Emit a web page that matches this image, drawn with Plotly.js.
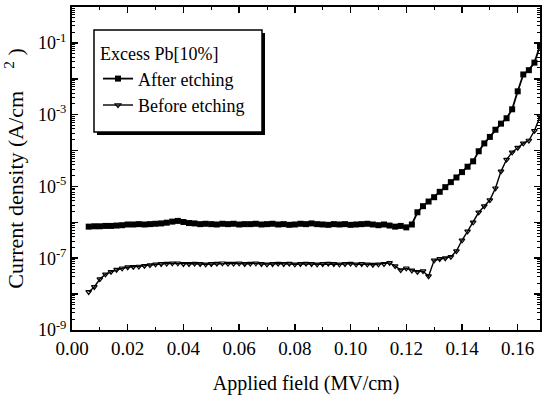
<!DOCTYPE html>
<html>
<head>
<meta charset="utf-8">
<script src="https://cdn.plot.ly/plotly-3.0.1.min.js"></script>
<style>html,body{margin:0;padding:0;background:#fff;}#chart{width:543px;height:396px;}</style>
</head>
<body>
<div id="chart"></div>
<script>
// Applied field (MV/cm)
const fieldAfter = [0.006,0.008,0.010,0.012,0.014,0.016,0.018,0.020,0.022,0.024,0.026,0.028,0.030,0.032,0.034,0.036,0.038,0.040,0.042,0.044,0.046,0.048,0.050,0.052,0.054,0.056,0.058,0.060,0.062,0.064,0.066,0.068,0.070,0.072,0.074,0.076,0.078,0.080,0.082,0.084,0.086,0.088,0.090,0.092,0.094,0.096,0.098,0.100,0.102,0.104,0.106,0.108,0.110,0.112,0.114,0.116,0.118,0.120,0.122,0.124,0.126,0.128,0.130,0.132,0.134,0.136,0.138,0.140,0.142,0.144,0.146,0.148,0.150,0.152,0.154,0.156,0.158,0.160,0.162,0.164,0.166,0.168];
// log10 of current density (A/cm^2), after etching
const logJAfter = [-6.12,-6.11,-6.11,-6.10,-6.10,-6.09,-6.08,-6.06,-6.06,-6.05,-6.06,-6.05,-6.04,-6.03,-6.01,-5.98,-5.96,-5.99,-6.02,-6.03,-6.05,-6.04,-6.05,-6.06,-6.04,-6.05,-6.04,-6.06,-6.05,-6.05,-6.04,-6.06,-6.05,-6.04,-6.06,-6.05,-6.07,-6.06,-6.04,-6.05,-6.03,-6.05,-6.06,-6.07,-6.05,-6.06,-6.05,-6.07,-6.06,-6.05,-6.04,-6.06,-6.08,-6.06,-6.09,-6.12,-6.10,-6.14,-6.06,-5.72,-5.55,-5.42,-5.30,-5.15,-5.02,-4.88,-4.75,-4.60,-4.45,-4.30,-4.02,-3.80,-3.62,-3.42,-3.25,-3.10,-2.85,-2.35,-1.88,-1.76,-1.55,-1.08];

const fieldBefore = [0.006,0.008,0.010,0.012,0.014,0.016,0.018,0.020,0.022,0.024,0.026,0.028,0.030,0.032,0.034,0.036,0.038,0.040,0.042,0.044,0.046,0.048,0.050,0.052,0.054,0.056,0.058,0.060,0.062,0.064,0.066,0.068,0.070,0.072,0.074,0.076,0.078,0.080,0.082,0.084,0.086,0.088,0.090,0.092,0.094,0.096,0.098,0.100,0.102,0.104,0.106,0.108,0.110,0.112,0.114,0.116,0.118,0.120,0.122,0.124,0.126,0.128,0.130,0.132,0.134,0.136,0.138,0.140,0.142,0.144,0.146,0.148,0.150,0.152,0.154,0.156,0.158,0.160,0.162,0.164,0.166,0.168];
// log10 of current density (A/cm^2), before etching
const logJBefore = [-7.94,-7.80,-7.58,-7.45,-7.38,-7.32,-7.28,-7.25,-7.24,-7.23,-7.21,-7.19,-7.17,-7.16,-7.15,-7.14,-7.14,-7.16,-7.16,-7.15,-7.16,-7.17,-7.16,-7.15,-7.14,-7.15,-7.15,-7.14,-7.16,-7.15,-7.14,-7.16,-7.17,-7.16,-7.15,-7.16,-7.15,-7.17,-7.16,-7.15,-7.16,-7.17,-7.16,-7.15,-7.16,-7.17,-7.16,-7.15,-7.17,-7.16,-7.17,-7.18,-7.17,-7.16,-7.13,-7.22,-7.33,-7.28,-7.34,-7.38,-7.36,-7.50,-7.06,-7.02,-7.00,-6.96,-6.80,-6.50,-6.25,-6.00,-5.72,-5.55,-5.38,-5.05,-4.58,-4.25,-4.05,-3.92,-3.80,-3.72,-3.45,-3.05];

const seriesNames = ['After etching', 'Before etching'];
const legendTitle = 'Excess Pb[10%]';
const yTickExp = [-9,-8,-7,-6,-5,-4,-3,-2,-1,0];
const yTickText = ['10<sup>-9</sup>','','10<sup>-7</sup>','','10<sup>-5</sup>','','10<sup>-3</sup>','','10<sup>-1</sup>',''];

const toJ = a => a.map(v => Math.pow(10, v));
const yTickVals = yTickExp.map(e => Math.pow(10, e));
const minorVals = [];
yTickExp.forEach(e => { for (let k = 2; k <= 9; k++) minorVals.push(k * Math.pow(10, e)); });

const font = '"Liberation Serif", "Times New Roman", Times, "DejaVu Serif", serif';

const traces = [
  { x: fieldAfter, y: toJ(logJAfter), name: seriesNames[0], type: 'scatter', mode: 'lines+markers',
    line: { color: '#000', width: 1.8 }, marker: { symbol: 'square', size: 6, color: '#000' } },
  { x: fieldBefore, y: toJ(logJBefore), name: seriesNames[1], type: 'scatter', mode: 'lines+markers',
    line: { color: '#000', width: 1.4 }, marker: { symbol: 'triangle-down-open', size: 5, color: '#000', line: { width: 1.2, color: '#000' } } }
];

const px = (p) => (p - 72) / 468;
const py = (p) => (330 - p) / 323;

const layout = {
  width: 543, height: 396,
  margin: { l: 72, r: 3, t: 7, b: 66 },
  paper_bgcolor: '#fff', plot_bgcolor: '#fff',
  font: { family: font, color: '#000', size: 18 },
  showlegend: true,
  legend: {
    x: px(98), y: py(37), xanchor: 'left', yanchor: 'top',
    bgcolor: 'rgba(0,0,0,0)', borderwidth: 0,
    font: { family: font, size: 18, color: '#000' },
    title: { text: legendTitle, font: { family: font, size: 18, color: '#000' } },
    tracegroupgap: 0
  },
  xaxis: {
    range: [0, 0.168], dtick: 0.02, tick0: 0, tickformat: '.2f',
    ticks: 'inside', ticklen: 6, tickwidth: 1.5, tickcolor: '#000',
    showline: true, linewidth: 2, linecolor: '#000', mirror: 'allticks',
    showgrid: false, zeroline: false,
    tickfont: { family: font, size: 19, color: '#000' },
    minor: { dtick: 0.01, ticks: 'inside', ticklen: 3, tickwidth: 1, tickcolor: '#000', showgrid: false },
    title: { text: 'Applied field (MV/cm)', font: { family: font, size: 20, color: '#000' }, standoff: 18 }
  },
  yaxis: {
    type: 'log', range: [-9, 0],
    tickmode: 'array', tickvals: yTickVals, ticktext: yTickText,
    ticks: 'inside', ticklen: 6, tickwidth: 1.5, tickcolor: '#000',
    showline: true, linewidth: 2, linecolor: '#000', mirror: 'allticks',
    showgrid: false, zeroline: false,
    tickfont: { family: font, size: 18, color: '#000' },
    minor: { tickmode: 'array', tickvals: minorVals, ticks: 'inside', ticklen: 3, tickwidth: 1, tickcolor: '#000', showgrid: false },
    title: { text: 'Current density (A/cm\u00a0\u00a0\u00a0\u00a0<sup>2</sup>\u00a0)', font: { family: font, size: 22, color: '#000' }, standoff: 8 }
  },
  shapes: [
    { type: 'rect', xref: 'paper', yref: 'paper', x0: px(97), x1: px(265), y0: py(135), y1: py(33),
      fillcolor: '#000', line: { width: 0 }, layer: 'above' },
    { type: 'rect', xref: 'paper', yref: 'paper', x0: px(94), x1: px(262), y0: py(132), y1: py(30),
      fillcolor: '#fff', line: { width: 1.5, color: '#000' }, layer: 'above' }
  ]
};

Plotly.newPlot('chart', traces, layout, { displayModeBar: false, staticPlot: true });
</script>
</body>
</html>
